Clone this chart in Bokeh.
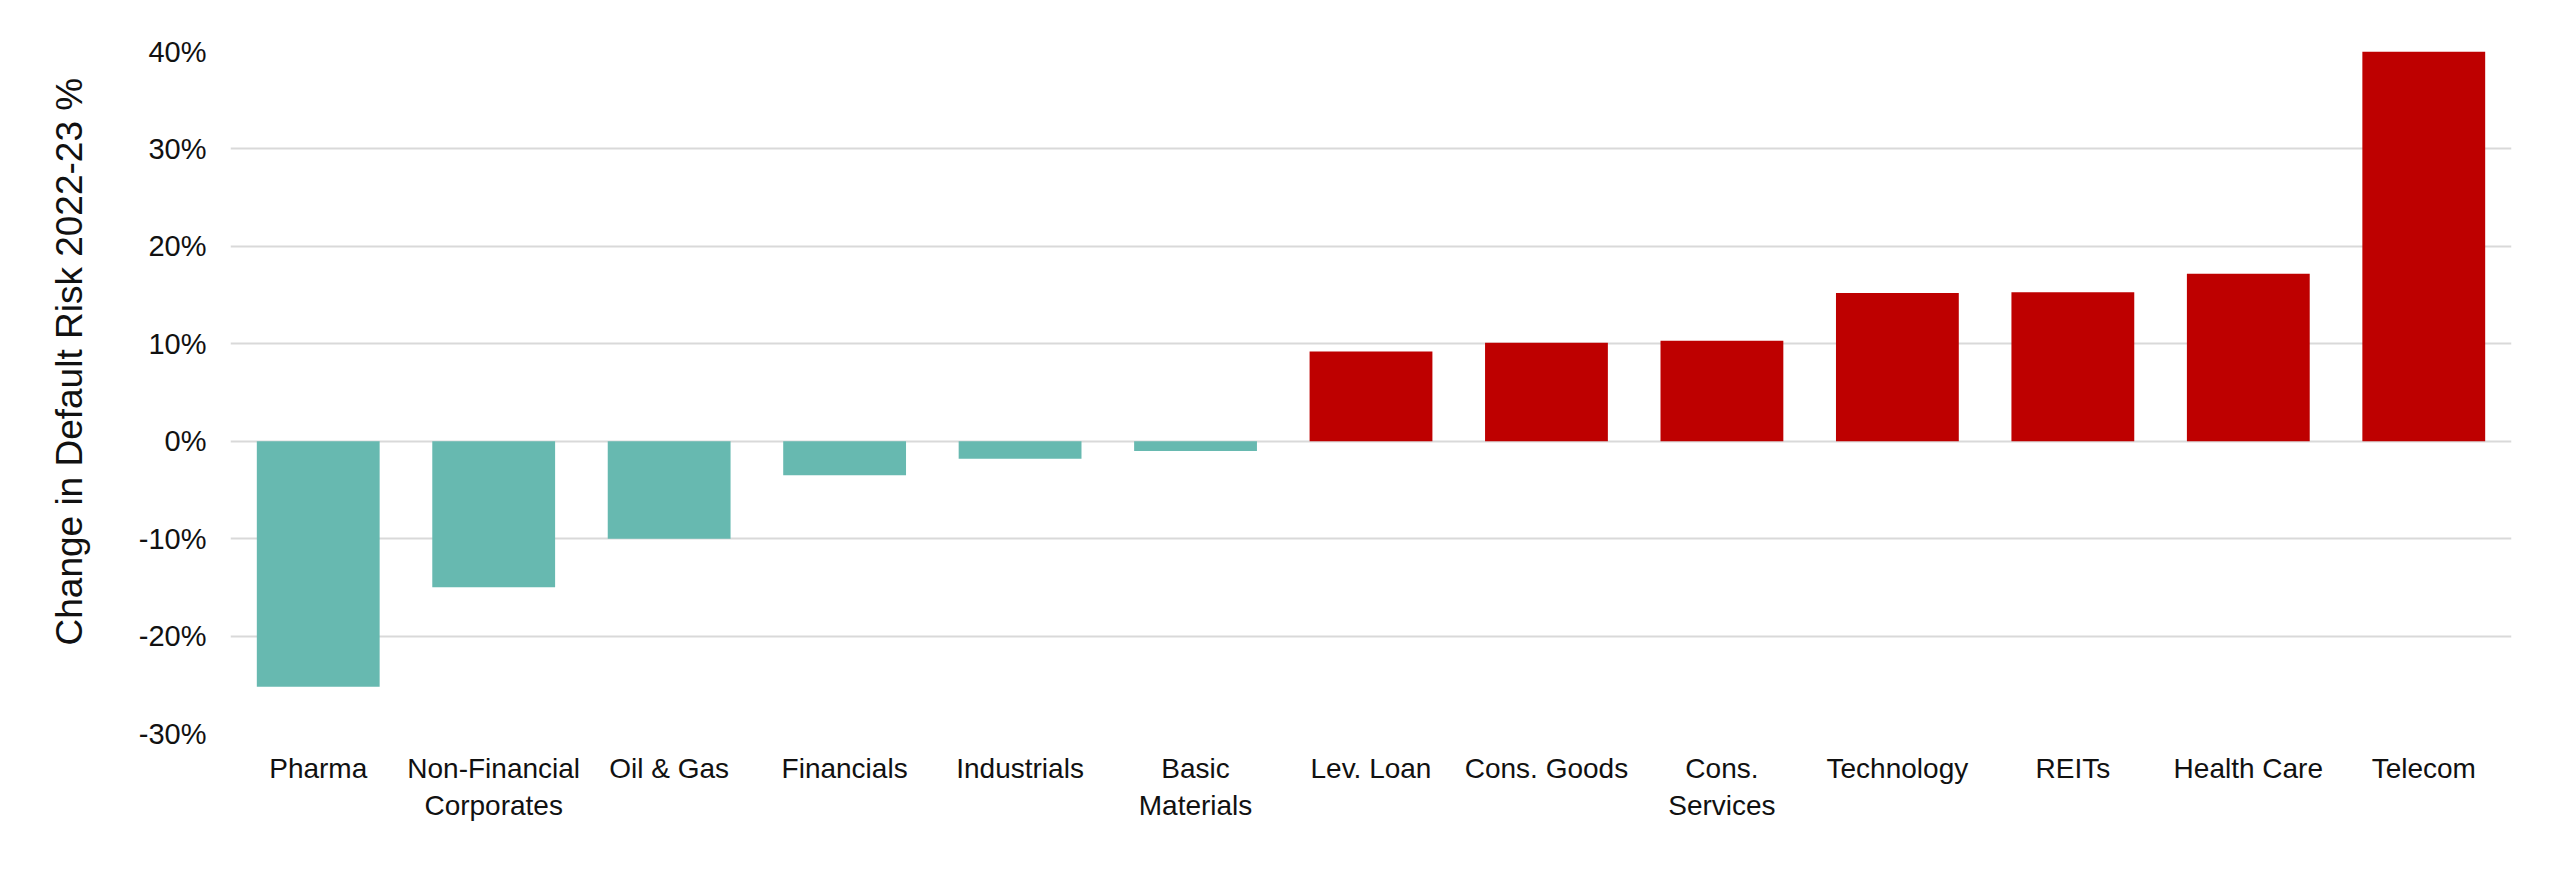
from bokeh.plotting import figure
from bokeh.models import FactorRange, Range1d, FixedTicker, PrintfTickFormatter, Title, ColumnDataSource
from bokeh.embed import file_html
from bokeh.resources import INLINE

# ---- data ----
categories = ["Pharma", "Non-Financial\nCorporates", "Oil & Gas", "Financials", "Industrials",
              "Basic\nMaterials", "Lev. Loan", "Cons. Goods", "Cons.\nServices", "Technology",
              "REITs", "Health Care", "Telecom"]
values = [-25.2, -15.0, -10.0, -3.5, -1.8, -1.0, 9.2, 10.1, 10.3, 15.2, 15.3, 17.2, 40.0]
y_ticks = [-30, -20, -10, 0, 10, 20, 30, 40]
y_title = "Change in Default Risk 2022-23 %"

NEG_COLOR = "#67B9B0"
POS_COLOR = "#BE0000"
FONT = "Liberation Sans"

colors = [NEG_COLOR if v < 0 else POS_COLOR for v in values]
src = ColumnDataSource(dict(cat=categories, val=values, color=colors))

p = figure(width=2544, height=869, x_range=FactorRange(factors=categories, range_padding=0),
           y_range=Range1d(-30, 40), output_backend="svg", toolbar_location=None,
           min_border_left=230, min_border_right=33, min_border_top=51, min_border_bottom=136)
p.outline_line_color = None
p.background_fill_color = "white"
p.border_fill_color = "white"

p.vbar(x="cat", top="val", bottom=0, width=0.7, fill_color="color", line_color=None, source=src)

# y axis
p.yaxis.ticker = FixedTicker(ticks=y_ticks)
p.yaxis.formatter = PrintfTickFormatter(format="%d%%")
p.yaxis.axis_line_color = None
p.yaxis.major_tick_line_color = None
p.yaxis.minor_tick_line_color = None
p.yaxis.major_label_text_font = FONT
p.yaxis.major_label_text_font_size = "29px"
p.yaxis.major_label_text_color = "#111111"
p.yaxis.major_label_standoff = 18

# x axis
p.xaxis.axis_line_color = None
p.xaxis.major_tick_line_color = None
p.xaxis.minor_tick_line_color = None
p.xaxis.major_label_text_font = FONT
p.xaxis.major_label_text_font_size = "28px"
p.xaxis.major_label_text_color = "#111111"
p.xaxis.major_label_standoff = 13

# grid
p.xgrid.grid_line_color = None
p.ygrid.ticker = FixedTicker(ticks=y_ticks)
p.ygrid.grid_line_color = "#D9D9D9"
p.ygrid.grid_line_width = 2
p.ygrid.level = "underlay"

# y title
p.add_layout(Title(text=y_title, align="left", offset=88, standoff=91,
                   text_font=FONT, text_font_size="37px", text_font_style="normal",
                   text_color="#111111"), "left")

open("out.html", "w").write(file_html(p, INLINE))
